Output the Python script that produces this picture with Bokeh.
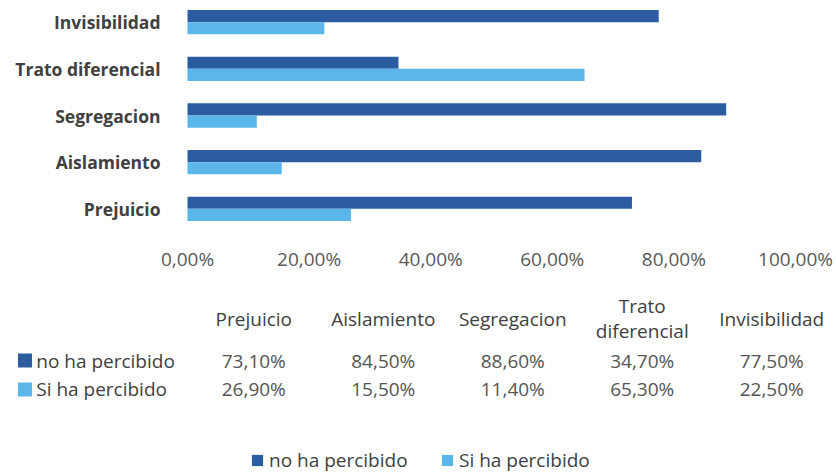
from bokeh.plotting import figure
from bokeh.models import (Range1d, FactorRange, ColumnDataSource, CustomJSTickFormatter,
                          FixedTicker, Legend, LegendItem)
from bokeh.transform import dodge
from bokeh.layouts import column
from bokeh.core.properties import value
from bokeh.embed import file_html
from bokeh.resources import INLINE

# ---- data ----
categories = ["Prejuicio", "Aislamiento", "Segregacion", "Trato diferencial", "Invisibilidad"]
no_percibido = [73.1, 84.5, 88.6, 34.7, 77.5]
si_percibido = [26.9, 15.5, 11.4, 65.3, 22.5]
series_names = ["no ha percibido", "Si ha percibido"]
x_ticks = [0, 20, 40, 60, 80, 100]
header_labels = ["Prejuicio", "Aislamiento", "Segregacion", "Trato\ndiferencial", "Invisibilidad"]

DARK = "#2B5C9F"
LIGHT = "#5BB6EA"
FONT = "Open Sans"
TXT = "#404040"
TXT2 = "#555555"


def fmt(v):
    return f"{v:.2f}".replace(".", ",") + "%"


# ---- bar chart ----
src = ColumnDataSource(dict(cat=categories, no=no_percibido, si=si_percibido,
                            base=[0] * len(categories)))

p1 = figure(width=836, height=276, output_backend="svg", toolbar_location=None,
            y_range=FactorRange(factors=categories, range_padding=-0.014,
                                range_padding_units="percent"),
            x_range=Range1d(-30.757, 106.743),
            min_border_left=0, min_border_right=0, min_border_top=0,
            min_border_bottom=46, y_axis_location=None)
p1.hbar(y=dodge("cat", 0.13, range=p1.y_range), left="base", right="no", height=0.26,
        source=src, fill_color=DARK, line_color=None)
p1.hbar(y=dodge("cat", -0.13, range=p1.y_range), left="base", right="si", height=0.26,
        source=src, fill_color=LIGHT, line_color=None)
# category labels, anchored at the bars' baseline
p1.text(x="base", y="cat", text="cat", source=src, x_offset=-27,
        text_align="right", text_baseline="middle", text_font=value(FONT),
        text_font_size="17.5px", text_font_style="bold", text_color=TXT)

p1.xaxis.ticker = FixedTicker(ticks=x_ticks)
p1.xaxis.formatter = CustomJSTickFormatter(code="return tick.toFixed(2).replace('.', ',') + '%';")
p1.xaxis.axis_line_color = None
p1.xaxis.major_tick_line_color = None
p1.xaxis.minor_tick_line_color = None
p1.xaxis.major_label_text_font = FONT
p1.xaxis.major_label_text_font_size = "19px"
p1.xaxis.major_label_text_color = "#595959"
p1.xaxis.major_label_standoff = 9
p1.grid.visible = False
p1.outline_line_color = None

# ---- data table ----
rows = ["Si ha percibido", "no ha percibido"]
xf = [("lab", "lab")] + [("data", c) for c in categories]
p2 = figure(width=836, height=197, output_backend="svg", toolbar_location=None,
            x_range=FactorRange(factors=xf, group_padding=0.456, factor_padding=0,
                                range_padding=0),
            y_range=FactorRange(factors=rows, range_padding=2.397,
                                range_padding_units="percent"),
            min_border_left=0, min_border_right=0, min_border_top=0,
            min_border_bottom=0, x_axis_location=None, y_axis_location=None)
p2.grid.visible = False
p2.outline_line_color = None

col_x = [("data", c) for c in categories]
txt_kw = dict(text_font=value(FONT), text_font_size="19px", text_align="center",
              text_baseline="middle")

p2.text(x=col_x, y=[series_names[0]] * 5, text=header_labels, y_offset=-42,
        text_color=TXT, text_line_height=0.95, **txt_kw)
p2.text(x=col_x, y=[series_names[0]] * 5, text=[fmt(v) for v in no_percibido],
        text_color=TXT2, **txt_kw)
p2.text(x=col_x, y=[series_names[1]] * 5, text=[fmt(v) for v in si_percibido],
        text_color=TXT2, **txt_kw)

# row keys: swatch + series name
key_src = ColumnDataSource(dict(x=[("lab", "lab"), ("lab", "lab")], y=series_names,
                                name=series_names))
p2.text(x="x", y="y", text="name", source=key_src, x_offset=-29,
        text_font=value(FONT), text_font_size="19px", text_align="left",
        text_baseline="middle", text_color=TXT)
r_no = p2.rect(x=dodge("x", -0.311, range=p2.x_range), y="y", width=14, height=14,
               width_units="screen", height_units="screen",
               source=ColumnDataSource(dict(x=[("lab", "lab")], y=[series_names[0]])),
               fill_color=DARK, line_color=None)
r_si = p2.rect(x=dodge("x", -0.311, range=p2.x_range), y="y", width=14, height=14,
               width_units="screen", height_units="screen",
               source=ColumnDataSource(dict(x=[("lab", "lab")], y=[series_names[1]])),
               fill_color=LIGHT, line_color=None)

# bottom legend
common = dict(padding=0, border_line_color=None, background_fill_alpha=0,
              label_text_font=FONT, label_text_font_size="19px", label_text_color=TXT,
              click_policy="none")
for name, r, loc in ((series_names[0], r_no, (250, 0)),
                     (series_names[1], r_si, (440, 0))):
    p2.add_layout(Legend(items=[LegendItem(label=name, renderers=[r])], location=loc,
                         orientation="horizontal", glyph_width=14, glyph_height=14,
                         label_standoff=5, margin=0, **common), "center")

layout = column(p1, p2)
open("out.html", "w").write(file_html(layout, INLINE))
